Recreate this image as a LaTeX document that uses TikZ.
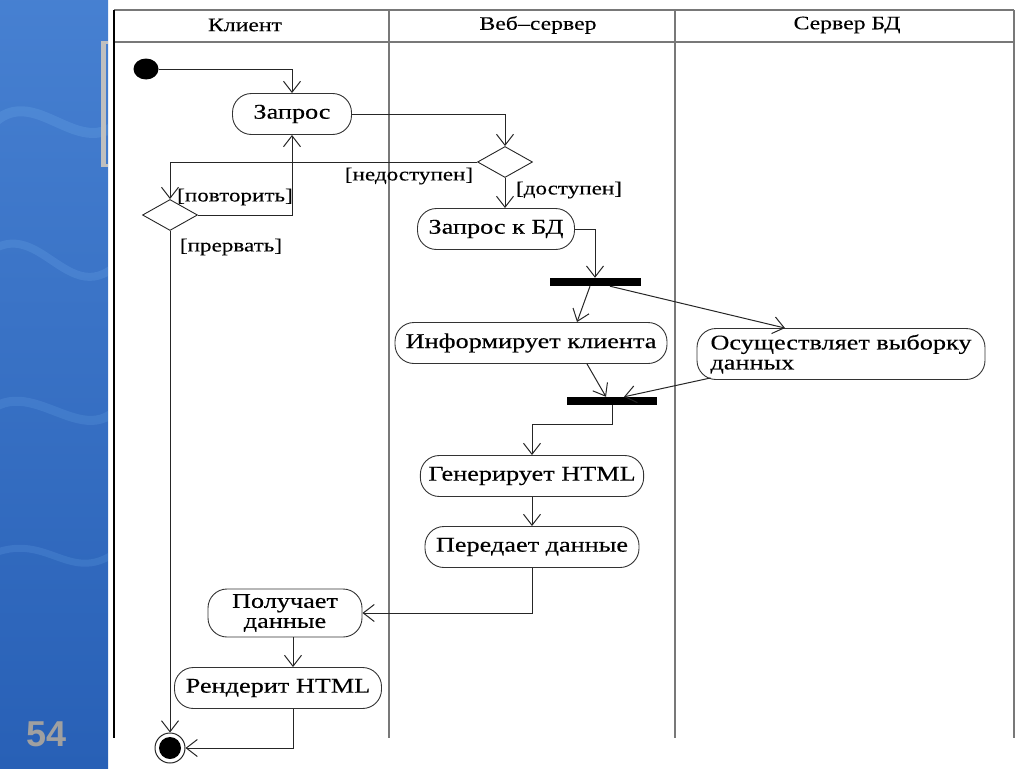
\documentclass[tikz,border=0pt]{standalone}
\usepackage{fontspec}
\setmainfont{Liberation Serif}[FakeStretch=1.25, FakeBold=0.25]
\newfontfamily\numfont{Liberation Sans}
\usetikzlibrary{arrows.meta,shapes.geometric,calc}

\definecolor{slideblue}{RGB}{50,114,204}
\definecolor{slidedeep}{RGB}{40,96,182}
\definecolor{wavecol}{RGB}{120,180,240}
\definecolor{lanegray}{RGB}{120,120,120}
\definecolor{numgray}{RGB}{160,160,160}

\tikzset{
  act/.style={draw=black!80, line width=0.9pt, rounded corners=19pt, minimum height=41pt,
    inner xsep=8pt, inner ysep=2pt, font=\fontsize{21}{20}\selectfont},
  choice/.style={diamond, draw=black!85, line width=0.9pt, minimum width=55pt, minimum height=31pt, inner sep=0pt},
  bar/.style={fill=black, minimum height=8pt, inner sep=0pt},
  flow/.style={draw=black!85, line width=1pt, -{Straight Barb[length=11pt, width=17pt]}},
  guard/.style={font=\fontsize{18.5}{20}\selectfont, inner sep=0pt},
  lanehead/.style={font=\fontsize{19}{20}\selectfont, inner sep=0pt},
  lane/.style={draw=lanegray, line width=2pt}
}

\begin{document}
\begin{tikzpicture}[x=1pt, y=-1pt]
\useasboundingbox (0,0) rectangle (1024,768);

\begin{scope}
  \clip (0,0) rectangle (108,768);
  \shade[top color=slideblue!90!white, bottom color=slidedeep] (0,0) rectangle (108,768);
  \draw[wavecol, line width=10pt, opacity=0.22] (-20,140) .. controls (30,60) and (80,180) .. (130,110);
  \draw[wavecol, line width=8pt, opacity=0.2] (-20,260) .. controls (40,200) and (70,330) .. (130,250);
  \draw[wavecol, line width=9pt, opacity=0.18] (-20,420) .. controls (30,360) and (90,470) .. (130,390);
  \draw[wavecol, line width=7pt, opacity=0.18] (-20,560) .. controls (50,520) and (70,600) .. (130,540);
\end{scope}
\fill[black!25] (101,41) rectangle (106,167);
\fill[black!25] (101,41) rectangle (108,44);
\fill[black!25] (101,164) rectangle (108,167);
\node[text=numgray, font=\numfont\bfseries\fontsize{36}{36}\selectfont] (slidenum) at (47,734) {54};

\draw[lane] (114,10) -- (1014,10);
\draw[lane] (114,42) -- (1014,42);
\draw[lane] (389,10) -- (389,738);
\draw[lane] (675,10) -- (675,738);
\draw[lane] (1014,10) -- (1014,738);
\draw[line width=2pt] (114,10) -- (114,738);

\node[lanehead] (lclient) at (245,25) {Клиент};
\node[lanehead] (lweb) at (538,25) {Веб–сервер};
\node[lanehead] (ldb) at (847,25) {Сервер БД};

\node[ellipse, fill=black, minimum width=25pt, minimum height=21pt, inner sep=0pt] (start) at (146,69) {};
\node[act, minimum width=119pt] (zapros) at (292,114) {Запрос};
\node[choice] (web) at (505,162) {};
\node[choice] (retry) at (170,215) {};
\node[act, minimum width=157pt] (zaprosbd) at (496,229) {Запрос к БД};
\node[bar, minimum width=91pt] (fork) at (595,282) {};
\node[act, minimum width=272pt] (inform) at (531,343) {Информирует клиента};
\node[act, minimum width=288pt, minimum height=51pt, align=left] (vyborka) at (841,354) {Осуществляет выборку\\данных};
\node[bar, minimum width=90pt] (join) at (612,401) {};
\node[act, minimum width=220pt] (genhtml) at (532,476) {Генерирует HTML};
\node[act, minimum width=214pt] (peredaet) at (532,547) {Передает данные};
\node[act, minimum width=154pt, minimum height=48pt, align=center] (poluchaet) at (285,613) {Получает\\данные};
\node[act, minimum width=207pt] (render) at (278,688) {Рендерит HTML};
\node[circle, draw=black!85, line width=1pt, minimum size=30pt, inner sep=0pt] (stop) at (170,748) {};
\fill (stop.center) circle (11pt);

\node[guard] (lblno) at (409,176) {[недоступен]};
\node[guard] (lblyes) at (569,190) {[доступен]};
\node[guard] (lblretry) at (235,197) {[повторить]};
\node[guard] (lblabort) at (231,247) {[прервать]};

\draw[flow] (start) -| (zapros);
\draw[flow] (zapros) -| (web);
\draw[flow] (web) -| (retry);
\draw[flow] (retry) -| (zapros);
\draw[flow] (retry) -- (stop);
\draw[flow] (web.south) -- (web.south |- zaprosbd.north);
\draw[flow] (zaprosbd) -| (fork);
\draw[flow] ($(fork.south)+(-5,0)$) -- ($(inform.north)+(46,0)$);
\draw[flow] ($(fork.south)+(15,0)$) -- ($(vyborka.north)+(-56,0)$);
\draw[flow] ($(inform.south)+(56,0)$) -- ($(join.north)+(-6,0)$);
\draw[flow] ($(vyborka.south west)+(14,-2)$) -- ($(join.north)+(12,0)$);
\draw[flow] (join.south) -- ++(0,19) -| (genhtml);
\draw[flow] (genhtml) -- (peredaet);
\draw[flow] (peredaet) |- (poluchaet);
\draw[flow] ($(poluchaet.south)+(8,0)$) -- ($(render.north)+(15,0)$);
\draw[flow] ($(render.south)+(15,0)$) |- (stop);
\end{tikzpicture}
\end{document}
